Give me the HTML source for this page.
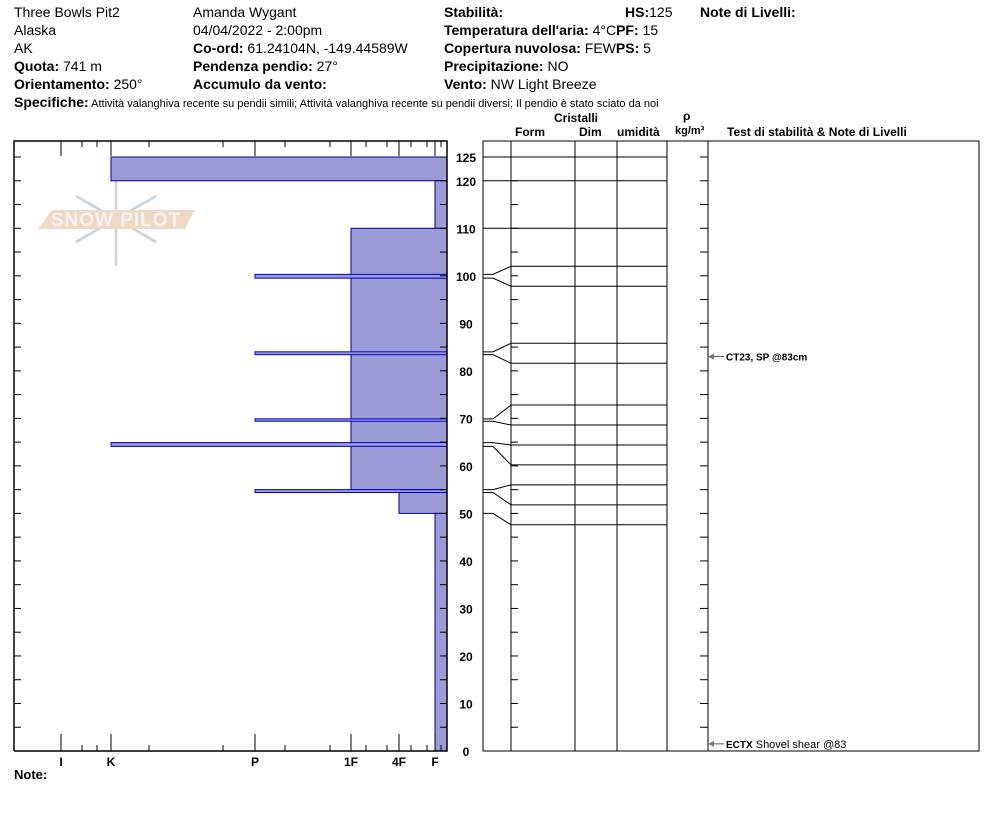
<!DOCTYPE html>
<html><head><meta charset="utf-8"><style>
body{margin:0;width:994px;height:840px;background:#fff;font-family:"Liberation Sans",sans-serif;overflow:hidden}
svg{position:absolute;left:0;top:0}
</style></head><body>
<svg id="c" width="994" height="840" font-family="Liberation Sans, sans-serif">
<g font-size="14" fill="#000">
<text x="14" y="17">Three Bowls Pit2</text>
<text x="14" y="35">Alaska</text>
<text x="14" y="53">AK</text>
<text x="14" y="71"><tspan font-weight="bold">Quota:</tspan> 741 m</text>
<text x="14" y="89"><tspan font-weight="bold">Orientamento:</tspan> 250°</text>
<text x="193" y="17">Amanda Wygant</text>
<text x="193" y="35">04/04/2022 - 2:00pm</text>
<text x="193" y="53"><tspan font-weight="bold">Co-ord:</tspan> 61.24104N, -149.44589W</text>
<text x="193" y="71"><tspan font-weight="bold">Pendenza pendio:</tspan> 27°</text>
<text x="193" y="89" font-weight="bold">Accumulo da vento:</text>
<text x="444" y="17" font-weight="bold">Stabilità:</text>
<text x="625" y="17"><tspan font-weight="bold">HS:</tspan>125</text>
<text x="700" y="17" font-weight="bold">Note di Livelli:</text>
<text x="444" y="35"><tspan font-weight="bold">Temperatura dell'aria:</tspan> 4°C<tspan font-weight="bold">PF:</tspan> 15</text>
<text x="444" y="53"><tspan font-weight="bold">Copertura nuvolosa:</tspan> FEW<tspan font-weight="bold">PS:</tspan> 5</text>
<text x="444" y="71"><tspan font-weight="bold">Precipitazione:</tspan> NO</text>
<text x="444" y="89"><tspan font-weight="bold">Vento:</tspan>  NW Light Breeze</text>
<text x="14" y="107"><tspan font-weight="bold" font-size="14">Specifiche:</tspan><tspan font-size="11"> Attività valanghiva recente su pendii simili;  Attività valanghiva recente su pendii diversi;  Il pendio è stato sciato da noi</tspan></text>
</g>
<g font-size="12" font-weight="bold">
<text x="554" y="122">Cristalli</text>
<text x="515" y="136">Form</text>
<text x="579" y="136">Dim</text>
<text x="617" y="136">umidità</text>
<text x="683" y="120">ρ</text>
<text x="675" y="134" font-size="11">kg/m³</text>
<text x="727" y="136">Test di stabilità &amp; Note di Livelli</text>
<text x="14" y="779" font-size="13">Note:</text>
</g>
<g opacity="0.9">
<g stroke="#c3ced8" stroke-width="2.5" fill="none">
<line x1="116" y1="172" x2="116" y2="266"/><line x1="76" y1="196" x2="156" y2="242"/><line x1="76" y1="242" x2="156" y2="196"/>
</g>
<polygon points="52,210 195,210 185,229 38,229" fill="#edd5bf"/>
<text x="116" y="226" text-anchor="middle" font-size="19" fill="#f2f2f2" font-weight="bold" letter-spacing="1">SNOW PILOT</text>
</g>
<g id="left"></g>
<g id="right"></g>
</svg>
<script>
const depthTicks=[0,10,20,30,40,50,60,70,80,90,100,110,120,125];
const hardLabels=["I","K","P","1F","4F","F"];
const hardPos=[61,111,255,351,399,435];
// layers: top, bottom (cm), hardness x index value in pixels via hardPos
const layerTop=[125,120,110,55,50];
const layerBot=[120,110,55,50,0];
const layerHard=["K","F","1F","4F","F"];
const thinTop=[100.3,84.0,69.9,64.9,55.0];
const thinBot=[99.5,83.4,69.4,64.1,54.4];
const thinHard=["P","P","P","K","P"];
const tableLines=[125,120,110,102,97.8,85.8,81.6,72.8,68.6,64.4,60.2,56.0,51.8,47.6];
const connFrom=[100.3,99.5,84.0,83.4,69.9,69.4,64.9,64.1,55.0,54.4,50];
const connTo=[102,97.8,85.8,81.6,72.8,68.6,64.4,60.2,56.0,51.8,47.6];
const NS="http://www.w3.org/2000/svg";
const y=d=>751-d*4.752;
const hx=h=>hardPos[hardLabels.indexOf(h)];
function el(p,t,a){const e=document.createElementNS(NS,t);for(const k in a)e.setAttribute(k,a[k]);p.appendChild(e);return e;}
const L=document.getElementById('left'),R=document.getElementById('right');
// layers
layerTop.forEach((t,i)=>{const r=el(L,'rect',{x:hx(layerHard[i]),y:y(t),width:447-hx(layerHard[i]),height:y(layerBot[i])-y(t),fill:'#9b9bd6',stroke:'#00008b','stroke-width':1});

});
thinTop.forEach((t,i)=>{const r=el(L,'rect',{x:hx(thinHard[i]),y:y(t),width:447-hx(thinHard[i]),height:Math.max(2,y(thinBot[i])-y(t)),fill:'#9b9bd6',stroke:'#0000cc','stroke-width':1});

});
// frame
el(L,'polyline',{points:'14,751 14,141 447,141 447,751 14,751',fill:'none',stroke:'#000','stroke-width':1.5});
const small=[82,97,149,223,285,330,366,387,411,427,441];
small.forEach(x=>{el(L,'line',{x1:x,y1:141,x2:x,y2:147,stroke:'#000'});el(L,'line',{x1:x,y1:751,x2:x,y2:745,stroke:'#000'});});
hardPos.forEach((x,i)=>{el(L,'line',{x1:x,y1:141,x2:x,y2:156,stroke:'#000'});el(L,'line',{x1:x,y1:751,x2:x,y2:734,stroke:'#000'});
const t=el(L,'text',{x:x,y:766,'font-size':12,'font-weight':'bold','text-anchor':'middle'});t.textContent=hardLabels[i];

});
for(let d=0;d<=125;d+=5){el(L,'line',{x1:14,y1:y(d),x2:21,y2:y(d),stroke:'#000'});el(L,'line',{x1:440,y1:y(d),x2:447,y2:y(d),stroke:'#000'});
el(R,'line',{x1:511,y1:y(d),x2:518,y2:y(d),stroke:'#000'});el(R,'line',{x1:700,y1:y(d),x2:708,y2:y(d),stroke:'#000'});}
depthTicks.forEach(d=>{const t=el(L,'text',{x:466,y:y(d)+5,'font-size':12,'font-weight':'bold','text-anchor':'middle'});t.textContent=d;

});
// table
el(R,'rect',{x:483,y:141,width:496,height:610,fill:'none',stroke:'#000'});
[511,575,617,667,708].forEach(x=>el(R,'line',{x1:x,y1:141,x2:x,y2:751,stroke:'#000'}));
tableLines.forEach(d=>{const l=el(R,'line',{x1:511,y1:y(d),x2:667,y2:y(d),stroke:'#000'});

});
[125,120,110].forEach(d=>el(R,'line',{x1:483,y1:y(d),x2:511,y2:y(d),stroke:'#000'}));
connFrom.forEach((d,i)=>{const p=el(R,'polyline',{points:`483,${y(d)} 493,${y(d)} 511,${y(connTo[i])}`,fill:'none',stroke:'#000'});

});
// tests
function test(d,txt,bold){el(R,'line',{x1:710,y1:y(d),x2:724,y2:y(d),stroke:'#555'});el(R,'polygon',{points:`708,${y(d)} 714,${y(d)-3} 714,${y(d)+3}`,fill:'#777'});
const t=el(R,'text',{x:726,y:y(d)+4,'font-size':10});t.innerHTML=txt;

}
test(83,'<tspan font-weight="bold">CT23, SP @83cm</tspan>');
test(1.5,'<tspan font-weight="bold">ECTX</tspan><tspan font-size="11">  Shovel shear @83</tspan>');
</script>
</body></html>
